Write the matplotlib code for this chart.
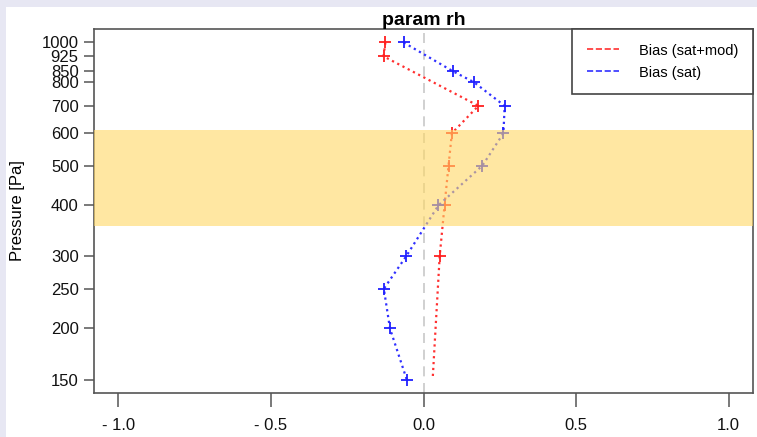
import matplotlib.pyplot as plt
import matplotlib.patches as mpatches
from matplotlib.lines import Line2D
import numpy as np

plt.rcParams['font.family'] = ['Liberation Sans', 'DejaVu Sans']

# pressure levels and biases
levels = [1000, 925, 850, 800, 700, 600, 500, 400, 300, 250, 200, 150]
red_p = [1000, 925, 700, 600, 500, 400, 300, 150]
red_bias = [-0.125, -0.131, 0.18, 0.093, 0.082, 0.069, 0.053, 0.03]
red_marked = [1000, 925, 700, 600, 500, 400, 300]
blue_p = [1000, 850, 800, 700, 600, 500, 400, 300, 250, 200, 150]
blue_bias = [-0.065, 0.097, 0.165, 0.266, 0.262, 0.193, 0.049, -0.057, -0.13, -0.11, -0.055]
band = (612, 356)
xticks = [-1.0, -0.5, 0.0, 0.5, 1.0]
xlabels = ['- 1.0', '- 0.5', '0.0', '0.5', '1.0']

fig = plt.figure(figsize=(7.57, 4.37), dpi=100)
fig.patch.set_facecolor('#e7e7f3')
fig.patches.append(mpatches.Rectangle((6 / 757, 0), 1, 430 / 437, transform=fig.transFigure,
                                      facecolor='white', edgecolor='none', zorder=-5))
ax = fig.add_axes([94 / 757, 44 / 437, 659 / 757, 364 / 437])
ax.set_facecolor('white')

ax.axvline(0, color='#c8c8c8', lw=1.2, ls=(0, (6, 4)), zorder=1)

ax.plot(red_bias, red_p, color='#ff3030', ls=':', lw=1.6, zorder=2)
rb = [red_bias[red_p.index(p)] for p in red_marked]
ax.plot(rb, red_marked, ls='none', marker='+', ms=9, mew=1.3, color='#ff2020', zorder=3)
ax.plot(blue_bias, blue_p, color='#3030ff', ls=':', lw=1.6, marker='+', ms=9, mew=1.3,
        mec='#2020ff', zorder=3)

ax.axhspan(band[1], band[0], facecolor='#ffd864', alpha=0.6, edgecolor='none', zorder=4)

# log pressure axis, 1000 at the top, R-style 4% padding
ax.set_yscale('log')
lo, hi = np.log10(150), np.log10(1000)
pad = 0.04 * (hi - lo)
ax.set_ylim(10 ** (lo - pad), 10 ** (hi + pad))
ax.set_yticks(levels)
ax.set_yticklabels([str(v) for v in levels])
ax.yaxis.set_minor_locator(plt.NullLocator())
ax.set_xlim(-1.08, 1.08)
ax.set_xticks(xticks)
ax.set_xticklabels(xlabels)

for s in ax.spines.values():
    s.set_color('#555555')
    s.set_linewidth(1.2)
ax.tick_params(axis='y', length=7, width=1.1, color='#555555', labelsize=12, pad=4, labelcolor='#111111')
ax.tick_params(axis='x', length=10, width=1.1, color='#555555', labelsize=12, pad=8, labelcolor='#111111')

ax.set_ylabel('Pressure [Pa]', fontsize=12, labelpad=12)
ax.set_title('param rh', fontsize=14, fontweight='bold', pad=3)

handles = [Line2D([], [], color='#ff3030', ls='--', lw=1.2),
           Line2D([], [], color='#3030ff', ls='--', lw=1.2)]
leg = ax.legend(handles, ['Bias (sat+mod)', 'Bias (sat)'], loc='upper right',
                bbox_to_anchor=(1.0, 1.0), borderaxespad=0, fancybox=False, framealpha=1,
                edgecolor='#444444', fontsize=10.5, handlelength=2.2, handletextpad=1.4,
                borderpad=1.0, labelspacing=0.55)
leg.get_frame().set_linewidth(1.2)
leg.set_zorder(10)

fig.savefig('out.png', dpi=100)
